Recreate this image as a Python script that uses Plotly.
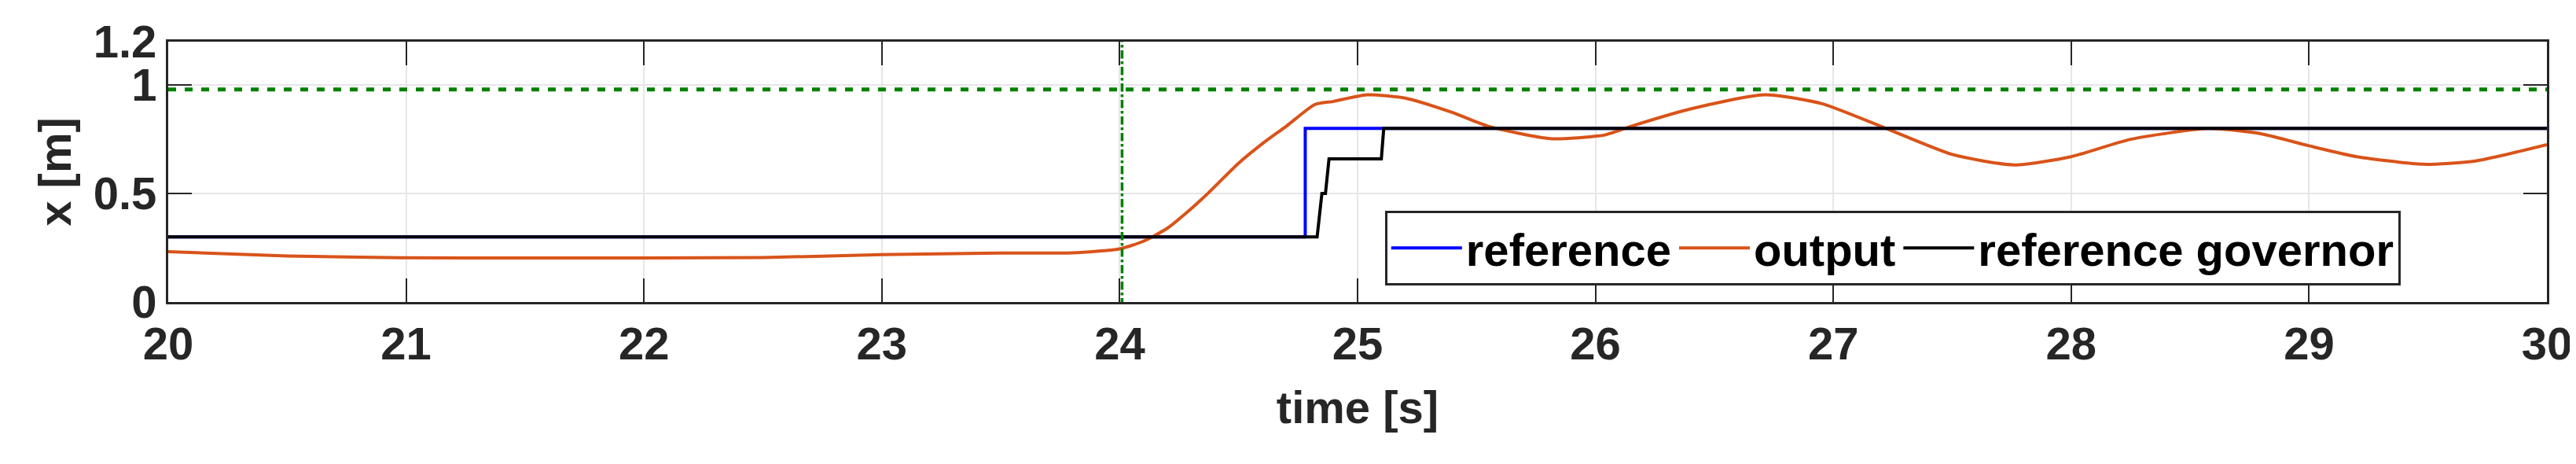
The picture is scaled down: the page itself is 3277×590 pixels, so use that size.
import plotly.graph_objects as go

out_t = [20, 20.5, 21, 21.5, 22, 22.5, 23, 23.5, 23.8, 24.0, 24.1, 24.2, 24.3, 24.37, 24.5, 24.6, 24.7, 24.82, 24.9, 25.04, 25.2, 25.4, 25.55, 25.81, 26.04, 26.15, 26.4, 26.71, 26.95, 27.2, 27.5, 27.76, 28.0, 28.25, 28.58, 28.8, 29.0, 29.2, 29.48, 29.7, 30]
out_x = [0.232, 0.212, 0.204, 0.203, 0.203, 0.205, 0.218, 0.226, 0.227, 0.245, 0.28, 0.34, 0.43, 0.50, 0.64, 0.73, 0.81, 0.91, 0.925, 0.955, 0.94, 0.873, 0.81, 0.753, 0.77, 0.81, 0.89, 0.955, 0.915, 0.81, 0.68, 0.632, 0.67, 0.75, 0.80, 0.775, 0.72, 0.67, 0.635, 0.65, 0.725]
ref_t = [20, 24.78, 24.78, 30]
ref_x = [0.3, 0.3, 0.8, 0.8]
gov_t = [20, 24.83, 24.85, 24.865, 24.88, 25.1, 25.11, 30]
gov_x = [0.3, 0.3, 0.5, 0.5, 0.66, 0.66, 0.8, 0.8]
limit = 0.98
t_event = 24.01

txt = "#262626"
font = "Liberation Sans Narrow, Liberation Sans, Arial"
fig = go.Figure()
fig.add_trace(go.Scatter(x=ref_t, y=ref_x, mode="lines", name="<b>reference</b>", line=dict(color="#0000ff", width=4)))
fig.add_trace(go.Scatter(x=out_t, y=out_x, mode="lines", name="<b>output</b>", line=dict(color="#d95319", width=4, shape="spline", smoothing=0.6)))
fig.add_trace(go.Scatter(x=gov_t, y=gov_x, mode="lines", name="<b>reference governor</b>", line=dict(color="#000000", width=4)))
fig.add_trace(go.Scatter(x=[20, 30], y=[limit, limit], mode="lines", showlegend=False, line=dict(color="#008000", width=5, dash="10px,11px")))
fig.add_trace(go.Scatter(x=[t_event, t_event], y=[-0.02, 1.22], mode="lines", showlegend=False, cliponaxis=False, line=dict(color="#008000", width=3.5, dash="dashdot")))

ax = dict(showline=True, linecolor=txt, linewidth=3, mirror="ticks", ticks="inside", ticklen=30, tickwidth=2, tickcolor=txt,
          showgrid=True, gridcolor="#e6e6e6", gridwidth=2, zeroline=False,
          tickfont=dict(family=font, size=58, color=txt))
fig.update_layout(
    width=3277, height=590, margin=dict(l=206, r=45, t=40, b=214),
    plot_bgcolor="white", paper_bgcolor="white",
    font=dict(family=font, color=txt),
    xaxis=dict(range=[20, 30], tickvals=list(range(20, 31)),
               title=dict(text="<b>time [s]</b>", font=dict(family=font, size=58, color=txt), standoff=30), **ax),
    yaxis=dict(range=[0, 1.2], tickvals=[0, 0.5, 1, 1.2], ticktext=["<b>0</b>", "<b>0.5</b>", "<b>1</b>", "<b>1.2</b>"],
               title=dict(text="<b>x [m]</b>", font=dict(family=font, size=58, color=txt), standoff=10), **ax),
    legend=dict(x=0.5115, y=0.35, xanchor="left", yanchor="top", orientation="h",
                bordercolor=txt, borderwidth=3, bgcolor="white",
                font=dict(family=font, size=58, color="#000"), itemwidth=90),
)
fig.update_xaxes(ticktext=[f"<b>{v}</b>" for v in range(20, 31)])
fig.write_html("out.html")
